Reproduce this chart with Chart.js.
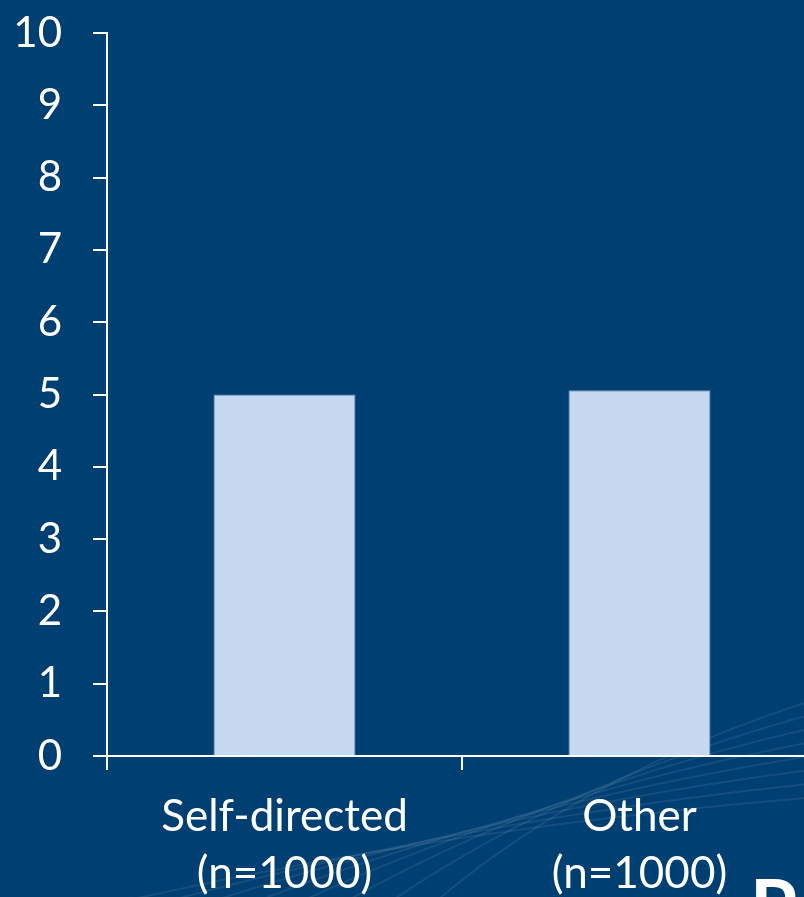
<!DOCTYPE html>
<html>
<head>
<meta charset="utf-8">
<script src="https://cdn.jsdelivr.net/npm/chart.js@4/dist/chart.umd.min.js"></script>
<style>
    html, body {
        margin: 0;
        padding: 0;
        width: 804px;
        height: 897px;
        overflow: hidden;
        background: #003f72;
    }
    #wrap {
        position: relative;
        width: 817px;
        height: 897px;
    }
</style>
</head>
<body>
<div id="wrap"><canvas id="chart"></canvas></div>
<script>
    // Chart data
    const categories = [['Self-directed', '(n=1000)'], ['Other', '(n=1000)']];
    const scores = [5.0, 5.06];
    const yTicks = [0, 1, 2, 3, 4, 5, 6, 7, 8, 9, 10];

    const fontFamily = 'Lato, "Noto Sans", sans-serif';

    // Background with faint swooshes in the lower part
    const backdrop = {
        id: 'backdrop',
        beforeDraw(chart) {
            const ctx = chart.ctx;
            const w = chart.width;
            const h = chart.height;
            ctx.save();
            ctx.fillStyle = '#003f72';
            ctx.fillRect(0, 0, w, h);
            ctx.strokeStyle = 'rgba(255,255,255,0.08)';
            ctx.lineWidth = 2;
            for (let i = 0; i < 8; i++) {
                ctx.beginPath();
                ctx.moveTo(120 + i * 45, h + 5);
                ctx.quadraticCurveTo(450 + i * 20, h - 70 - i * 8, w, h - 100 - i * 14);
                ctx.stroke();
            }
            ctx.restore();
        },
        afterDraw(chart) {
            const ctx = chart.ctx;
            ctx.save();
            ctx.fillStyle = '#ffffff';
            ctx.font = 'bold 76px ' + fontFamily;
            ctx.textBaseline = 'top';
            ctx.fillText('P', 750, 872);
            ctx.restore();
        }
    };

    const ctx = document.getElementById('chart').getContext('2d');
    new Chart(ctx, {
        type: 'bar',
        data: {
            labels: categories,
            datasets: [{
                data: scores,
                backgroundColor: '#c6d9f1',
                borderColor: '#7fa2cc',
                borderWidth: 1,
                barPercentage: 0.4,
                categoryPercentage: 1.0
            }]
        },
        options: {
            responsive: true,
            maintainAspectRatio: false,
            animation: false,
            layout: {
                padding: { top: 33, left: 0, right: 0, bottom: 0 }
            },
            plugins: {
                legend: { display: false },
                tooltip: { enabled: false }
            },
            scales: {
                y: {
                    min: 0,
                    max: 10,
                    afterBuildTicks: function(axis) {
                        axis.ticks = yTicks.map(v => ({ value: v }));
                    },
                    afterFit: function(axis) {
                        axis.width = 107;
                        axis.paddingTop = 0;
                        axis.paddingBottom = 0;
                    },
                    border: { display: true, color: '#ffffff', width: 2 },
                    grid: {
                        drawOnChartArea: false,
                        drawTicks: true,
                        tickLength: 14,
                        color: '#ffffff',
                        lineWidth: 2
                    },
                    ticks: {
                        color: '#ffffff',
                        padding: 31,
                        font: { family: fontFamily, size: 42 }
                    }
                },
                x: {
                    afterFit: function(axis) {
                        axis.height = 141;
                    },
                    border: { display: true, color: '#ffffff', width: 2 },
                    grid: {
                        offset: true,
                        drawOnChartArea: false,
                        drawTicks: true,
                        tickLength: 14,
                        color: '#ffffff',
                        lineWidth: 2
                    },
                    ticks: {
                        color: '#ffffff',
                        padding: 18,
                        maxRotation: 0,
                        font: { family: fontFamily, size: 44, lineHeight: 1.3 }
                    }
                }
            }
        },
        plugins: [backdrop]
    });
</script>
</body>
</html>
